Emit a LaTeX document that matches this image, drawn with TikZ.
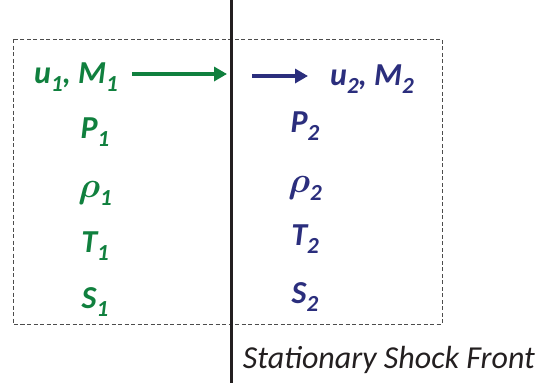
\documentclass[tikz,border=0pt]{standalone}
\usepackage{amsmath}
\usepackage{fontspec}
\setmainfont{Carlito}
\usetikzlibrary{arrows.meta}
\definecolor{upgreen}{RGB}{16,128,62}
\definecolor{downblue}{RGB}{43,46,125}
\definecolor{shockgray}{RGB}{35,31,32}
\newcommand{\sbs}[1]{\raisebox{-8pt}{\fontsize{23}{25}\selectfont #1}}
\newcommand{\rhosym}{\scalebox{1.45}{$\boldsymbol{\rho}$}}
\tikzset{
  qty/.style={font=\fontsize{32}{37}\selectfont\bfseries\itshape,inner sep=0pt,anchor=base},
  upq/.style={qty,text=upgreen},
  downq/.style={qty,text=downblue},
  flow/.style={line width=4pt,-{Triangle[length=13pt,width=14pt]}},
  ctrlvol/.style={dash pattern=on 4pt off 2.5pt,line width=0.9pt,draw=black!70},
  shock/.style={line width=3pt,draw=shockgray},
}
\begin{document}
\begin{tikzpicture}[x=1pt,y=-1pt]
  \useasboundingbox (0,0) rectangle (537,383);
  % control volume and shock
  \draw[ctrlvol] (13,39) rectangle (442,324);
  \coordinate (shocktop) at (231,0);
  \coordinate (shockbot) at (231,383);
  \draw[shock] (shocktop) -- (shockbot);
  % upstream state
  \node[upq] (uM1) at (76,83)  {u\sbs{1}, M\sbs{1}};
  \node[upq] (P1)  at (95,138) {P\sbs{1}};
  \node[upq] (rho1) at (95,197) {\rhosym\sbs{1}};
  \node[upq] (T1)  at (95,252) {T\sbs{1}};
  \node[upq] (S1)  at (95,308) {S\sbs{1}};
  % downstream state
  \node[downq] (uM2) at (372,85)  {u\sbs{2}, M\sbs{2}};
  \node[downq] (P2)  at (305,132) {P\sbs{2}};
  \node[downq] (rho2) at (305,192) {\rhosym\sbs{2}};
  \node[downq] (T2)  at (305,245) {T\sbs{2}};
  \node[downq] (S2)  at (305,303) {S\sbs{2}};
  % flow arrows
  \coordinate (gin) at (132,74);  \coordinate (gout) at (227,74);
  \coordinate (bin) at (252,76);  \coordinate (bout) at (308,76);
  \draw[flow,upgreen] (gin) -- (gout);
  \draw[flow,downblue,line width=3.5pt] (bin) -- (bout);
  \node[font=\fontsize{32}{37}\selectfont\itshape,text=shockgray,inner sep=0pt,anchor=base]
    (shocklbl) at (389,368) {Stationary Shock Front};
\end{tikzpicture}
\end{document}
